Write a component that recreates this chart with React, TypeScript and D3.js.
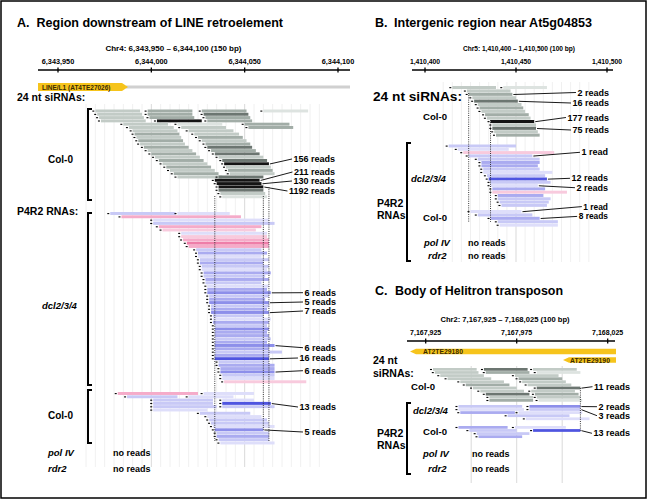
import * as d3 from 'd3';

type Bar = [number, number, string];
type Row = Bar[];
type Label = [number, number, string, number];

const FONT = '"Liberation Sans", Arial, Helvetica, sans-serif';

const shade: Record<string, string> = {
  g0: '#dde3e0', g1: '#c2cbc6', g2: '#a2ada7', g3: '#6c7671', g4: '#141414',
  b0: '#dedefa', b1: '#c8c9f6', b2: '#aaabf0', b3: '#8d8fea', b4: '#4f55e0',
  p0: '#f8cadd', p1: '#f5abc9', p2: '#ee7ea9',
};

// ---- Panel A: Chr4 6,343,950 - 6,344,100 (bp offsets from 6,343,950)
const aTicks = [0, 50, 100, 150];
const aTickLabels = ['6,343,950', '6,344,000', '6,344,050', '6,344,100'];
const aSiRNA: Row[] = [
  [[20, 44, 'g1'], [48, 72, 'g2'], [77, 101, 'g2'], [110, 134, 'g0']],
  [[21, 45, 'g1'], [48, 72, 'g2'], [78, 102, 'g3']],
  [[22, 46, 'g1'], [49, 73, 'g2'], [79, 103, 'g2']],
  [[23, 47, 'g1'], [53, 77, 'g4'], [80, 104, 'g2']],
  [[35, 59, 'g1'], [64, 88, 'g0'], [100, 124, 'g2']],
  [[38, 62, 'g1'], [66, 90, 'g1'], [102, 126, 'g2']],
  [[40, 64, 'g1'], [70, 94, 'g1']],
  [[41, 65, 'g2'], [73, 97, 'g1']],
  [[42, 66, 'g1'], [75, 99, 'g2']],
  [[43, 67, 'g2'], [77, 101, 'g1']],
  [[44, 68, 'g1'], [79, 103, 'g2']],
  [[46, 70, 'g2'], [80, 104, 'g3']],
  [[48, 72, 'g1'], [82, 106, 'g2']],
  [[50, 74, 'g2'], [84, 108, 'g3']],
  [[52, 76, 'g1'], [86, 110, 'g1']],
  [[54, 78, 'g2'], [88, 112, 'g3']],
  [[56, 80, 'g1'], [89, 113, 'g4']],
  [[58, 82, 'g2'], [90, 114, 'g1']],
  [[60, 84, 'g1'], [91, 115, 'g2']],
  [[62, 86, 'g2'], [92, 116, 'g1']],
  [[64, 88, 'g1'], [86, 110, 'g3']],
  [[84, 108, 'g4']],
  [[85, 109, 'g4']],
  [[86, 110, 'g4']],
  [[86, 110, 'g3']],
  [[87, 111, 'g1']],
  [[88, 112, 'g0']],
];
const aSiLabels: Label[] = [
  [16, 1, '156 reads', 159],
  [21, 0, '211 reads', 172],
  [22, 0, '130 reads', 181],
  [23, 0, '1192 reads', 191],
];
const aDcl: Row[] = [
  [[28, 63, 'b1'], [64, 92, 'b0']],
  [[34, 98, 'p1']],
  [[51, 113, 'b0']],
  [[51, 116, 'b1']],
  [[54, 109, 'p1']],
  [[56, 106, 'p0']],
  [[66, 112, 'b0']],
  [[66, 112, 'p0']],
  [[67, 113, 'p1']],
  [[69, 113, 'p2']],
  [[70, 113, 'p1']],
  [[74, 109, 'b1']],
  [[75, 112, 'b2']],
  [[75, 109, 'b0']],
  [[76, 113, 'b1']],
  [[76, 110, 'b2']],
  [[77, 113, 'b1']],
  [[77, 112, 'b0']],
  [[78, 114, 'b2']],
  [[78, 111, 'b1']],
  [[79, 113, 'b2']],
  [[79, 109, 'b1']],
  [[80, 113, 'b0']],
  [[80, 112, 'b2']],
  [[80, 114, 'b3']],
  [[81, 113, 'b1']],
  [[81, 111, 'b2']],
  [[81, 113, 'b3']],
  [[82, 113, 'b1']],
  [[82, 112, 'b2']],
  [[82, 113, 'b3']],
  [[83, 110, 'b1']],
  [[83, 114, 'b0']],
  [[83, 113, 'b2']],
  [[84, 112, 'b1']],
  [[84, 113, 'b3']],
  [[84, 112, 'b2']],
  [[84, 113, 'b2']],
  [[84, 114, 'b1']],
  [[84, 112, 'b2']],
  [[84, 116, 'b3']],
  [[84, 113, 'b2']],
  [[84, 120, 'b1']],
  [[84, 113, 'b2']],
  [[84, 113, 'b4']],
  [[86, 113, 'b1']],
  [[86, 116, 'b2']],
  [[87, 116, 'b2']],
  [[87, 116, 'b3']],
  [[88, 116, 'b1']],
  [[88, 116, 'b0']],
  [[89, 133, 'p0']],
];
const aDclLabels: Label[] = [
  [24, 0, '6 reads', 292.7],
  [27, 0, '5 reads', 302],
  [30, 0, '7 reads', 311],
  [40, 0, '6 reads', 347.7],
  [44, 0, '16 reads', 358],
  [48, 0, '6 reads', 370.7],
];
const aCol: Row[] = [
  [[32, 75, 'p1'], [78, 105, 'b0']],
  [[37, 64, 'b1'], [70, 94, 'b0']],
  [[51, 83, 'b1'], [88, 105, 'b0']],
  [[51, 83, 'b1'], [88, 114, 'b4']],
  [[51, 85, 'b1'], [88, 116, 'b1']],
  [[51, 80, 'b0']],
  [[76, 103, 'b1']],
  [[80, 109, 'b0']],
  [[81, 112, 'b1']],
  [[82, 113, 'b1']],
  [[83, 116, 'b0']],
  [[84, 110, 'b3']],
  [[85, 113, 'b1']],
  [[85, 113, 'b2']],
  [[86, 113, 'b1']],
  [[87, 116, 'b0']],
];
const aColLabels: Label[] = [
  [3, 1, '13 reads', 407],
  [11, 0, '5 reads', 432],
];
const aDotted = [84, 110, 113];

// ---- Panel B: Chr5 1,410,400 - 1,410,500 (bp offsets from 1,410,400)
const bTicks = [0, 50, 100];
const bTickLabels = ['1,410,400', '1,410,450', '1,410,500'];
const bSiRNA: Row[] = [
  [[15, 39, 'g1'], [43, 67, 'g0']],
  [[23, 47, 'g1']],
  [[24, 48, 'g2']],
  [[26, 50, 'g1']],
  [[27, 51, 'g3']],
  [[29, 53, 'g1']],
  [[30, 54, 'g2']],
  [[31, 55, 'g1']],
  [[33, 57, 'g2']],
  [[34, 58, 'g1']],
  [[36, 60, 'g4']],
  [[37, 61, 'g1']],
  [[37, 61, 'g3']],
  [[38, 62, 'g1']],
  [[39, 63, 'g2']],
];
const bSiLabels: Label[] = [
  [2, 0, '2 reads', 92.5],
  [4, 0, '16 reads', 103],
  [10, 0, '177 reads', 117.5],
  [12, 0, '75 reads', 130],
];
const bDcl: Row[] = [
  [[13, 50, 'b1']],
  [[18, 46, 'b0']],
  [[21, 71, 'p0']],
  [[24, 59, 'b1']],
  [[29, 63, 'b1']],
  [[31, 63, 'b2']],
  [[31, 62, 'b2']],
  [[32, 63, 'b1']],
  [[32, 70, 'b0']],
  [[34, 66, 'b1']],
  [[35, 67, 'b4']],
  [[36, 69, 'b1']],
  [[36, 62, 'b0']],
  [[37, 66, 'b2']],
  [[37, 78, 'p0']],
  [[40, 65, 'b2']],
  [[40, 69, 'b1']],
  [[41, 68, 'b1']],
  [[42, 67, 'b1']],
];
const bDclLabels: Label[] = [
  [3, 0, '1 read', 152.3],
  [10, 0, '12 reads', 178.3],
  [12, 0, '2 reads', 187.7],
];
const bCol: Row[] = [
  [[25, 53, 'b0']],
  [[29, 59, 'b1']],
  [[36, 63, 'b2']],
  [[40, 73, 'b1']],
  [[41, 73, 'b0']],
];
const bColLabels: Label[] = [
  [0, 0, '1 read', 206.6],
  [2, 0, '8 reads', 216.4],
];
const bDotted = [24, 36];

// ---- Panel C: Chr2 7,167,925 - 7,168,025 (bp offsets from 7,167,925)
const cTicks = [0, 50, 100];
const cTickLabels = ['7,167,925', '7,167,975', '7,168,025'];
const cSiRNA: Row[] = [
  [[4, 28, 'g1'], [32, 56, 'g3'], [59, 83, 'g1']],
  [[5, 29, 'g1'], [33, 57, 'g2'], [61, 85, 'g0']],
  [[8, 32, 'g1'], [49, 73, 'g1']],
  [[12, 36, 'g1'], [51, 75, 'g2']],
  [[19, 43, 'g1'], [53, 77, 'g1']],
  [[22, 46, 'g2'], [56, 80, 'g1']],
  [[26, 50, 'g1'], [61, 85, 'g3']],
  [[30, 54, 'g1'], [58, 82, 'g1']],
  [[33, 57, 'g3'], [60, 84, 'g2']],
  [[35, 59, 'g1'], [61, 85, 'g1']],
  [[35, 59, 'g2'], [62, 86, 'g0']],
];
const cSiLabels: Label[] = [[6, 1, '11 reads', 386.7]];
const cDcl: Row[] = [
  [[18, 53, 'b1'], [57, 85, 'b3']],
  [[18, 54, 'b0'], [57, 85, 'b1']],
  [[19, 49, 'b2'], [51, 86, 'b0']],
  [[45, 79, 'b1']],
  [[55, 90, 'b0']],
];
const cDclLabels: Label[] = [
  [0, 1, '2 reads', 406.7],
  [1, 1, '3 reads', 415.7],
];
const cCol: Row[] = [
  [[18, 45, 'b2'], [49, 77, 'b0']],
  [[24, 50, 'b1'], [59, 85, 'b4']],
  [[28, 57, 'b1']],
  [[29, 53, 'b2']],
];
const cColLabels: Label[] = [[1, 1, '13 reads', 433.3]];
const cDotted = [85];

let ctx: CanvasRenderingContext2D | null = null;
function textWidth(s: string, size: number) {
  if (!ctx) ctx = document.createElement('canvas').getContext('2d');
  if (!ctx) return s.length * size * 0.55;
  ctx.font = `bold ${size}px ${FONT}`;
  return ctx.measureText(s).width;
}

function Txt({ x, y, size = 9, anchor = 'start', italic = false, len, fill = '#000', children }: any) {
  return (
    <text
      x={x}
      y={y}
      fontSize={size}
      fontWeight="bold"
      fontStyle={italic ? 'italic' : 'normal'}
      textAnchor={anchor}
      fill={fill}
      fontFamily={FONT}
      textLength={len}
      lengthAdjust={len ? 'spacingAndGlyphs' : undefined}
    >
      {children}
    </text>
  );
}

function Ruler({ x, y, x0, x1, ticks, labels, size = 7.3 }: any) {
  return (
    <g>
      <line x1={x0} x2={x1} y1={y} y2={y} stroke="#000" strokeWidth={1.6} />
      {ticks.map((t: number, i: number) => (
        <g key={i}>
          <line x1={x(t)} x2={x(t)} y1={y - 2.5} y2={y + 2.5} stroke="#000" strokeWidth={1.3} />
          <Txt x={x(t)} y={y - 6} size={size} anchor="middle">{labels[i]}</Txt>
        </g>
      ))}
    </g>
  );
}

function Grid({ x, from, to, step, major, y1, y2 }: any) {
  return (
    <g>
      {d3.range(from, to + 0.01, step).map((t: number) => (
        <line
          key={t}
          x1={x(t)}
          x2={x(t)}
          y1={y1}
          y2={y2}
          stroke={major.includes(t) ? '#cfcfcf' : '#ececec'}
          strokeWidth={0.8}
        />
      ))}
    </g>
  );
}

function Reads({ rows, x, y0, rh, labels = [], right, size = 9 }: { rows: Row[]; x: any; y0: number; rh: number; labels?: Label[]; right: number; size?: number }) {
  return (
    <g>
      {rows.map((row, i) =>
        row.map((b, j) => {
          const y = y0 + i * rh;
          return (
            <g key={`${i}-${j}`}>
              <rect x={x(b[0])} y={y} width={x(b[1]) - x(b[0])} height={rh - 0.35} fill={shade[b[2]]} />
              <rect x={x(b[0]) - 3} y={y + rh / 2 - 0.6} width={2} height={1.1} fill="#000" />
            </g>
          );
        })
      )}
      {labels.map(([r, j, t, ly]) => {
        const b = rows[r][j];
        const yc = y0 + r * rh + rh / 2;
        const w = textWidth(t, size);
        return (
          <g key={t + r}>
            <line x1={x(b[1]) + 1} y1={yc} x2={right - w - 1.5} y2={ly} stroke="#000" strokeWidth={0.9} />
            <Txt x={right} y={ly + size * 0.35} size={size} anchor="end">{t}</Txt>
          </g>
        );
      })}
    </g>
  );
}

function Bracket({ x, y1, y2 }: { x: number; y1: number; y2: number }) {
  return <path d={`M${x + 4},${y1}H${x}V${y2}H${x + 4}`} fill="none" stroke="#000" strokeWidth={2} />;
}

function Dotted({ x, y1, y2 }: { x: number; y1: number; y2: number }) {
  return <line x1={x} x2={x} y1={y1} y2={y2} stroke="#222" strokeWidth={0.9} strokeDasharray="1 1.2" />;
}

export default function App() {
  const xA = d3.scaleLinear().domain([0, 150]).range([58, 338]);
  const xB = d3.scaleLinear().domain([0, 100]).range([425, 607]);
  const xC = d3.scaleLinear().domain([0, 100]).range([425.7, 607.7]);

  return (
    <svg width={647} height={500} style={{ position: 'absolute', left: 0, top: 0 }} fontFamily={FONT}>
      <rect x={0} y={0} width={647} height={500} fill="#fff" />
      <rect x={1} y={1} width={645} height={497} fill="none" stroke="#000" strokeWidth={1.5} />

      {/* ---------- Panel A ---------- */}
      <Txt x={17} y={27} size={12.5}>A.</Txt>
      <Txt x={36.5} y={27} size={12.5} len={246.5}>Region downstream of LINE retroelement</Txt>
      <Txt x={173.5} y={51} size={8} anchor="middle">Chr4: 6,343,950 – 6,344,100 (150 bp)</Txt>
      <Ruler x={xA} y={70} x0={38} x1={350} ticks={aTicks} labels={aTickLabels} />
      <line x1={126} x2={350} y1={87} y2={87} stroke="#d0d0d0" strokeWidth={2.8} />
      <path d="M38,83H122L128,87L122,91H38Z" fill="#f6c41c" />
      <Txt x={42} y={89.5} size={6.5} fill="#3a2a00">LINE/L1 (AT4TE27026)</Txt>

      <Grid x={xA} from={15} to={140} step={5} major={[50, 100]} y1={104} y2={467} />
      <Txt x={17} y={101} size={10.5}>24 nt siRNAs:</Txt>
      <Bracket x={88} y1={109} y2={200} />
      <Txt x={48} y={162.5} size={10}>Col-0</Txt>
      <Reads rows={aSiRNA} x={xA} y0={109.5} rh={3.3} labels={aSiLabels} right={335} />

      <Txt x={17} y={215} size={10.5}>P4R2 RNAs:</Txt>
      <Bracket x={88} y1={213} y2={385} />
      <Txt x={42} y={308.5} size={9.5} italic>dcl2/3/4</Txt>
      <Reads rows={aDcl} x={xA} y0={212} rh={3.3} labels={aDclLabels} right={336} />
      <Bracket x={88} y1={390} y2={443} />
      <Txt x={48} y={418.5} size={10}>Col-0</Txt>
      <Reads rows={aCol} x={xA} y0={392} rh={3.3} labels={aColLabels} right={336} />
      <Dotted x={xA(aDotted[0])} y1={196} y2={441} />
      <Dotted x={xA(aDotted[1])} y1={196} y2={430} />
      <Dotted x={xA(aDotted[2])} y1={187} y2={441} />
      <Txt x={48} y={456} size={9.5} italic>pol IV</Txt>
      <Txt x={113} y={456} size={9}>no reads</Txt>
      <Txt x={48} y={471.5} size={9.5} italic>rdr2</Txt>
      <Txt x={113} y={471.5} size={9}>no reads</Txt>

      {/* ---------- Panel B ---------- */}
      <Txt x={375} y={27} size={12.5}>B.</Txt>
      <Txt x={394} y={27} size={12.5} len={198}>Intergenic region near At5g04853</Txt>
      <Txt x={519} y={51} size={6.6} anchor="middle">Chr5: 1,410,400 – 1,410,500 (100 bp)</Txt>
      <Ruler x={xB} y={70} x0={412} x1={613} ticks={bTicks} labels={bTickLabels} size={6.8} />
      <Grid x={xB} from={10} to={90} step={5} major={[50]} y1={82} y2={262} />
      <Txt x={373} y={101} size={12} len={89}>24 nt siRNAs:</Txt>
      <Txt x={423} y={119.5} size={9.6}>Col-0</Txt>
      <Reads rows={bSiRNA} x={xB} y0={86} rh={3.4} labels={bSiLabels} right={609} />
      <Bracket x={407} y1={143} y2={261} />
      <Txt x={377} y={207} size={10.5}>P4R2</Txt>
      <Txt x={377} y={219} size={10.5}>RNAs</Txt>
      <Txt x={411} y={181.5} size={9.5} italic>dcl2/3/4</Txt>
      <Reads rows={bDcl} x={xB} y0={144.5} rh={3.3} labels={bDclLabels} right={608} />
      <Txt x={423} y={220.5} size={9.6}>Col-0</Txt>
      <Reads rows={bCol} x={xB} y0={210} rh={3.4} labels={bColLabels} right={608} size={8.4} />
      <Dotted x={xB(bDotted[0])} y1={93} y2={222} />
      <Dotted x={xB(bDotted[1])} y1={120} y2={222} />
      <Txt x={424} y={245.5} size={9.5} italic>pol IV</Txt>
      <Txt x={468} y={245.5} size={9}>no reads</Txt>
      <Txt x={428} y={258.5} size={9.5} italic>rdr2</Txt>
      <Txt x={468} y={258.5} size={9}>no reads</Txt>

      {/* ---------- Panel C ---------- */}
      <Txt x={375} y={295} size={12.5}>C.</Txt>
      <Txt x={395} y={295} size={12.5} len={168}>Body of Helitron transposon</Txt>
      <Txt x={505} y={322} size={7.6} anchor="middle">Chr2: 7,167,925 – 7,168,025 (100 bp)</Txt>
      <Ruler x={xC} y={341} x0={407} x1={615} ticks={cTicks} labels={cTickLabels} size={7} />
      <Grid x={xC} from={25} to={75} step={25} major={[25, 50, 75]} y1={366} y2={483} />
      <path d="M410,351.5L416,348.7H616V354.3H416Z" fill="#f6c41c" />
      <Txt x={423} y={354} size={6.8} fill="#3a2a00">AT2TE29180</Txt>
      <path d="M563,360L569,357.2H616V362.8H569Z" fill="#f6c41c" />
      <Txt x={570} y={362.5} size={6.8} fill="#3a2a00">AT2TE29190</Txt>
      <Txt x={373} y={364} size={10.5}>24 nt</Txt>
      <Txt x={373} y={376.5} size={10.5}>siRNAs:</Txt>
      <Txt x={411} y={390} size={9.6}>Col-0</Txt>
      <Reads rows={cSiRNA} x={xC} y0={368} rh={3.1} labels={cSiLabels} right={630} />
      <Bracket x={407} y1={403} y2={474} />
      <Txt x={413} y={413.5} size={9.5} italic>dcl2/3/4</Txt>
      <Reads rows={cDcl} x={xC} y0={405} rh={3.1} labels={cDclLabels} right={630} />
      <Txt x={423} y={435} size={9.6}>Col-0</Txt>
      <Reads rows={cCol} x={xC} y0={426} rh={3.1} labels={cColLabels} right={630} />
      <Dotted x={xC(cDotted[0])} y1={388} y2={432} />
      <Txt x={377} y={437} size={10.5}>P4R2</Txt>
      <Txt x={377} y={449} size={10.5}>RNAs</Txt>
      <Txt x={423} y={457} size={9.5} italic>pol IV</Txt>
      <Txt x={472} y={457} size={9}>no reads</Txt>
      <Txt x={428} y={472} size={9.5} italic>rdr2</Txt>
      <Txt x={472} y={472} size={9}>no reads</Txt>
    </svg>
  );
}
